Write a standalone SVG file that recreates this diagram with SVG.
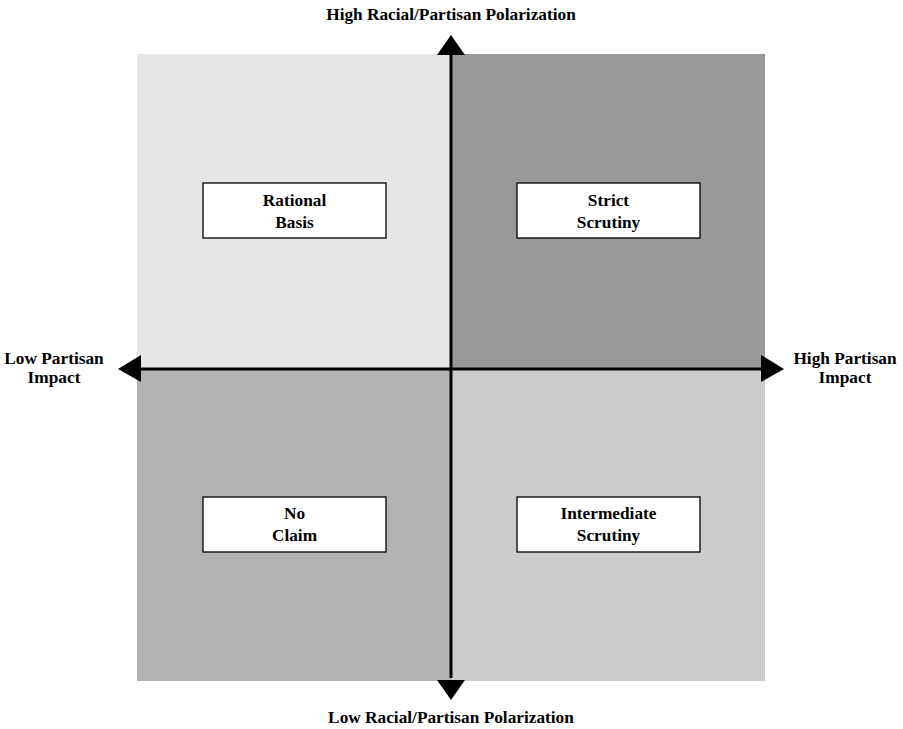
<svg xmlns="http://www.w3.org/2000/svg" width="903" height="729" viewBox="0 0 903 729">
<style>
text{font-family:"Liberation Serif","Times New Roman",serif;font-weight:bold;font-size:17.3px;fill:#000;text-anchor:middle}
.box{fill:#fff;stroke:#000;stroke-width:1.3}
.ax{stroke:#000;stroke-width:3;fill:none}
</style>
<rect width="903" height="729" fill="#fff"/>
<g id="quadrants">
<rect x="137" y="54" width="314" height="314" fill="#e6e6e6"/>
<rect x="451" y="54" width="314" height="314" fill="#999999"/>
<rect x="137" y="368" width="314" height="313" fill="#b3b3b3"/>
<rect x="451" y="368" width="314" height="313" fill="#cccccc"/>
</g>
<g id="connectors">
<line class="ax" x1="451" y1="50" x2="451" y2="678"/>
<line class="ax" x1="138" y1="369" x2="765" y2="369"/>
<polygon points="451,35 437,55 465,55"/>
<polygon points="451,700 437,680 465,680"/>
<polygon points="118,369 141,355 141,382"/>
<polygon points="784,369 761,355 761,382"/>
</g>
<g id="rational"><rect class="box" x="203" y="183" width="183" height="55"/><text x="294.5" y="206">Rational</text><text x="294.5" y="228">Basis</text></g>
<g id="strict"><rect class="box" x="517" y="183" width="183" height="55"/><text x="608.5" y="206">Strict</text><text x="608.5" y="228">Scrutiny</text></g>
<g id="noclaim"><rect class="box" x="203" y="497" width="183" height="55"/><text x="294.5" y="519">No</text><text x="294.5" y="541">Claim</text></g>
<g id="intermediate"><rect class="box" x="517" y="497" width="183" height="55"/><text x="608.5" y="519">Intermediate</text><text x="608.5" y="541">Scrutiny</text></g>
<g id="labels">
<text x="451" y="20">High Racial/Partisan Polarization</text>
<text x="451" y="723">Low Racial/Partisan Polarization</text>
<text x="54" y="364">Low Partisan</text><text x="54" y="383">Impact</text>
<text x="845" y="364">High Partisan</text><text x="845" y="383">Impact</text>
</g>
</svg>
